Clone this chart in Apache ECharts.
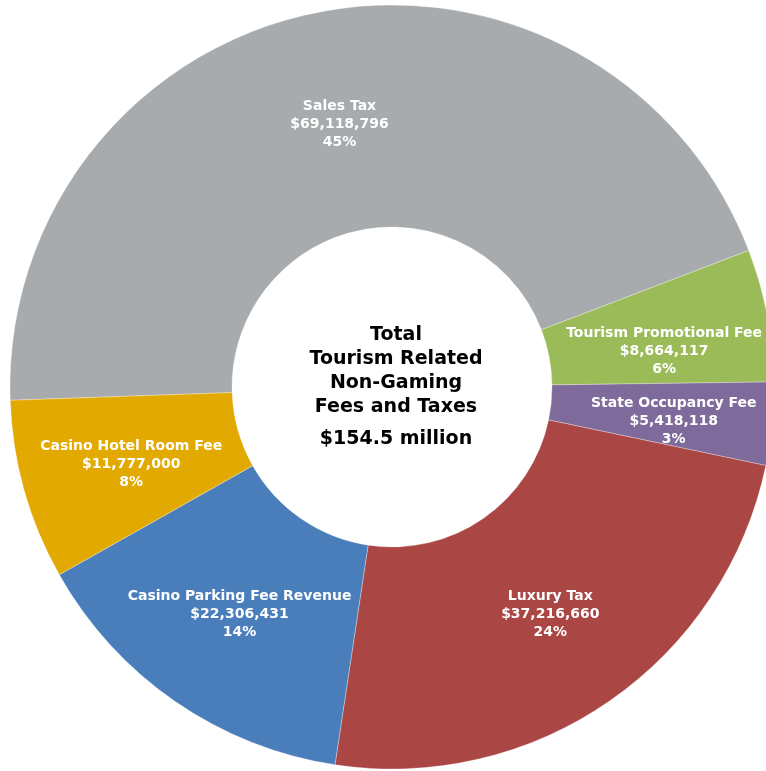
<!DOCTYPE html>
<html>
<head>
<meta charset="utf-8">
<script src="https://cdn.jsdelivr.net/npm/echarts@6/dist/echarts.min.js"></script>
<style>
  html, body { margin: 0; padding: 0; background: #fff; }
  #chart { width: 766px; height: 771px; }
</style>
</head>
<body>
<div id="chart"></div>
<script>
// categories and values, clockwise from the left
var categories = ['Sales Tax', 'Tourism Promotional Fee', 'State Occupancy Fee', 'Luxury Tax', 'Casino Parking Fee Revenue', 'Casino Hotel Room Fee'];
var amounts = [69118796, 8664117, 5418118, 37216660, 22306431, 11777000];
var colors = ['#a7abae', '#9bbb59', '#7f6b9b', '#aa4644', '#4a7ebb', '#e2aa00'];
var centerLines = ['Total', 'Tourism Related', 'Non-Gaming', 'Fees and Taxes'];
var centerTotal = '$154.5 million';

// small nudges [dx, dy] of each label so it sits like the original
var labelNudge = [[2, 6], [3, 16], [9, 8], [2, 2], [3, 2], [3, 3]];

var chart = echarts.init(document.getElementById('chart'));

function money(v) {
  return '$' + v.toString().replace(/\B(?=(\d{3})+(?!\d))/g, ',');
}

var data = categories.map(function (name, i) {
  return { name: name, value: amounts[i], itemStyle: { color: colors[i] } };
});

chart.setOption({
  animation: false,
  series: [{
    type: 'pie',
    center: [392, 387],
    radius: [160, 382],
    startAngle: 182,
    clockwise: true,
    percentPrecision: 0,
    avoidLabelOverlap: false,
    itemStyle: {
      borderColor: 'rgba(255,255,255,0.5)',
      borderWidth: 0.6
    },
    label: {
      show: true,
      position: 'inside',
      color: '#fff',
      fontFamily: 'DejaVu Sans',
      fontWeight: 'bold',
      fontSize: 14,
      lineHeight: 18,
      formatter: function (p) {
        return p.name + '\n' + money(p.value) + '\n' + p.percent + '%';
      }
    },
    labelLayout: function (params) {
      var n = labelNudge[params.dataIndex];
      return { dx: n[0], dy: n[1] };
    },
    labelLine: { show: false },
    emphasis: { disabled: true },
    data: data
  }],
  graphic: [{
    type: 'text',
    x: 396,
    y: 323,
    style: {
      text: centerLines.join('\n'),
      fill: '#000',
      font: 'bold 19px "DejaVu Sans"',
      lineHeight: 24,
      align: 'center',
      verticalAlign: 'top'
    }
  }, {
    type: 'text',
    x: 396,
    y: 430,
    style: {
      text: centerTotal,
      fill: '#000',
      font: 'bold 19px "DejaVu Sans"',
      align: 'center',
      verticalAlign: 'top'
    }
  }]
});
</script>
</body>
</html>
